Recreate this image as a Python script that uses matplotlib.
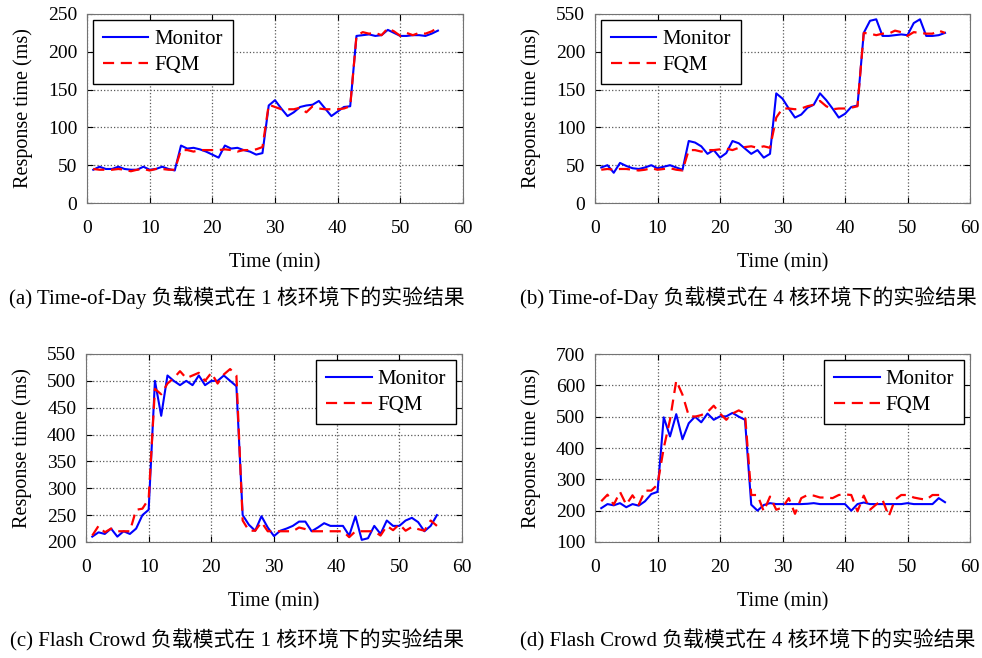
import numpy as np
import matplotlib
matplotlib.use("Agg")
import matplotlib.pyplot as plt

plt.rcParams["font.family"] = ["Liberation Serif", "Noto Sans CJK SC"]

minutes = np.arange(1, 57)

# (a) Time-of-Day, 1 core
mon_a = [44, 48, 45, 45, 48, 45, 44, 44, 48, 44, 45, 48, 45, 43,
         76, 72, 73, 71, 68, 64, 60, 76, 72, 73, 70, 68, 64, 66,
         129, 136, 125, 115, 120, 127, 129, 130, 135, 125, 115, 121, 127, 128,
         221, 222, 223, 221, 222, 229, 225, 221, 221, 222, 222, 221, 224, 228]
fqm_a = [45, 44, 44, 44, 45, 44, 42, 44, 45, 43, 45, 45, 44, 44,
         70, 70, 68, 70, 70, 70, 70, 71, 70, 68, 70, 70, 71, 74,
         130, 127, 124, 124, 124, 126, 120, 128, 125, 124, 124, 124, 125, 128,
         221, 226, 224, 225, 222, 231, 227, 221, 225, 222, 225, 224, 227, 232]

# (b) Time-of-Day, 4 cores
mon_b = [47, 50, 40, 53, 49, 46, 45, 47, 50, 46, 48, 50, 47, 44,
         82, 80, 75, 65, 70, 60, 66, 82, 79, 72, 65, 70, 60, 65,
         145, 138, 125, 113, 117, 126, 130, 145, 136, 125, 113, 118, 127, 129,
         225, 241, 243, 221, 221, 222, 223, 222, 238, 243, 221, 221, 222, 225]
fqm_b = [44, 45, 44, 45, 45, 44, 43, 44, 46, 44, 45, 46, 44, 43,
         70, 70, 68, 70, 70, 71, 72, 70, 73, 74, 75, 73, 75, 73,
         113, 125, 125, 124, 125, 128, 130, 135, 128, 124, 125, 125, 126, 128,
         225, 224, 222, 224, 224, 228, 226, 221, 226, 225, 224, 224, 228, 225]

# (c) Flash Crowd, 1 core
mon_c = [210, 218, 215, 225, 210, 220, 215, 225, 250, 260,
         500, 435, 510, 500, 492, 500, 492, 510, 492, 500, 500, 510, 500, 490,
         250, 232, 221, 248, 227, 211, 221, 225, 230, 238, 238, 220, 227, 235,
         230, 230, 230, 212, 248, 204, 207, 230, 215, 240, 230, 230, 240, 245,
         237, 220, 230, 250]
fqm_c = [212, 230, 218, 225, 220, 220, 220, 260, 262, 280,
         485, 475, 495, 505, 518, 505, 510, 515, 500, 515, 495, 512, 522, 510,
         240, 221, 221, 237, 220, 220, 220, 220, 220, 227, 224, 220, 220, 220,
         220, 220, 220, 209, 220, 220, 220, 220, 212, 230, 222, 233, 221, 228,
         224, 221, 240, 230]

# (d) Flash Crowd, 4 cores
mon_d = [208, 221, 217, 224, 211, 221, 216, 230, 253, 260,
         498, 437, 508, 428, 479, 500, 482, 510, 490, 501, 501, 512, 500, 490,
         219, 200, 218, 224, 221, 221, 221, 221, 221, 222, 224, 221, 221, 221,
         221, 221, 200, 221, 226, 221, 221, 221, 221, 221, 221, 224, 221, 221,
         221, 221, 240, 227]
fqm_d = [230, 251, 219, 260, 219, 249, 219, 264, 264, 283,
         400, 490, 615, 570, 503, 500, 505, 515, 535, 510, 490, 510, 520, 510,
         250, 250, 198, 245, 203, 210, 240, 190, 240, 250, 248, 242, 242, 240,
         250, 252, 250, 198, 248, 203, 220, 235, 182, 235, 250, 250, 242, 238,
         235, 250, 250, 250]

captions = [
    "(a) Time-of-Day 负载模式在 1 核环境下的实验结果",
    "(b) Time-of-Day 负载模式在 4 核环境下的实验结果",
    "(c) Flash Crowd 负载模式在 1 核环境下的实验结果",
    "(d) Flash Crowd 负载模式在 4 核环境下的实验结果",
]

panels = [
    (mon_a, fqm_a, np.arange(0, 251, 50), None, "upper left"),
    (mon_b, fqm_b, np.arange(0, 251, 50), ["0", "50", "100", "150", "200", "550"], "upper left"),
    (mon_c, fqm_c, np.arange(200, 551, 50), None, "upper right"),
    (mon_d, fqm_d, np.arange(100, 701, 100), None, "upper right"),
]

# axes boxes in pixels: left, top, right, bottom
boxes = [(87, 14, 463, 203), (595, 14, 970, 203),
         (86, 354, 462, 542), (595, 354, 970, 542)]
cap_pos = [(237, 298), (748, 298), (237, 640), (748, 640)]

W, H = 982, 658
fig = plt.figure(figsize=(W / 100, H / 100), dpi=100)

for (mon, fqm, yt, ylab, loc), (l, t, r, b), cap, (cx, cy) in zip(panels, boxes, captions, cap_pos):
    ax = fig.add_axes([l / W, 1 - b / H, (r - l) / W, (b - t) / H])
    ax.plot(minutes, mon, "-", color="blue", lw=1.5, label="Monitor")
    ax.plot(minutes, fqm, "--", color="red", lw=1.6, dashes=(5, 3), label="FQM")
    ax.set_xlim(0, 60)
    ax.set_ylim(yt[0], yt[-1])
    ax.set_xticks(np.arange(0, 61, 10))
    ax.set_yticks(yt)
    if ylab is not None:
        ax.set_yticklabels(ylab)
    ax.grid(True, linestyle=":", color="0.35", lw=0.9)
    ax.tick_params(direction="in", top=True, right=True, labelsize=14, length=4, pad=7)
    ax.tick_params(axis="x", pad=12)
    for s in ax.spines.values():
        s.set_color("0.45")
    ax.set_xlabel("Time (min)", fontsize=14.5, labelpad=12)
    ax.set_ylabel("Response time (ms)", fontsize=14.5, labelpad=11)
    leg = ax.legend(loc=loc, fontsize=15, handlelength=2.2, fancybox=False,
                    framealpha=1, edgecolor="black", borderaxespad=0.3,
                    handletextpad=0.3, labelspacing=0.3, borderpad=0.45)
    leg.get_frame().set_linewidth(1.0)
    fig.text(cx / W, 1 - cy / H, cap, ha="center", va="center", fontsize=15)

fig.savefig("out.png", dpi=100)
